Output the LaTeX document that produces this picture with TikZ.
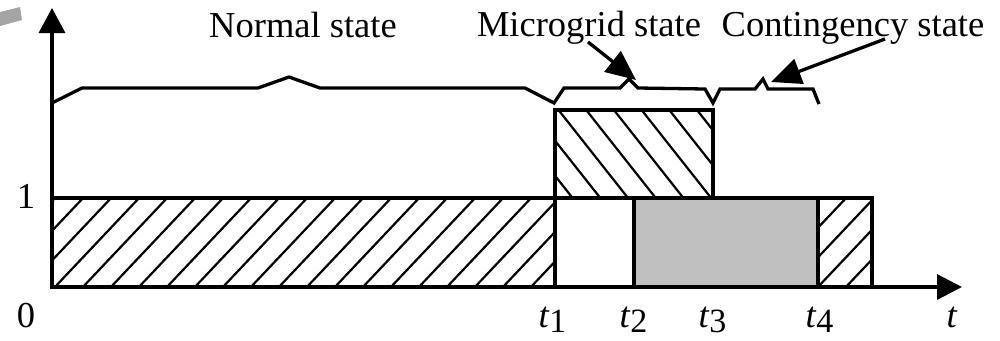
\documentclass[tikz,border=0pt]{standalone}
\usepackage{fontspec}
\setmainfont{Liberation Serif}
\usetikzlibrary{arrows.meta}
\definecolor{markgray}{RGB}{165,165,165}
\definecolor{boxgray}{RGB}{192,192,192}
\newcommand\tlab[1]{\textit{t}\raisebox{-5pt}{\fontsize{34}{34}\selectfont #1}}
\begin{document}
\begin{tikzpicture}[x=1pt,y=-1pt,
  lbl/.style={font=\fontsize{36.5}{40}\selectfont, inner sep=0pt, anchor=base},
  edge/.style={line width=3.3pt},
  hatch/.style={line width=2.2pt},
  bigarrow/.style={line width=3.3pt,-{Triangle[length=30pt,width=26pt]}}]
\useasboundingbox (0,0) rectangle (1000,340);

% gray mark at top-left
\fill[markgray] (0,12) -- (20,7) -- (22,20) -- (0,26) -- cycle;

% coordinates
\coordinate (O) at (52,287);
\coordinate (ytip) at (52,8);
\coordinate (xtip) at (962,287);

% normal-state hatch (NE)
\begin{scope}
  \clip (52,198) rectangle (555,287);
  \foreach \k in {0,...,21} {
    \pgfmathsetmacro{\xt}{55+28*\k}
    \draw[hatch] (\xt+19,178) -- (\xt-103,307);
  }
\end{scope}
% right hatch (NE)
\begin{scope}
  \clip (818,198) rectangle (872,287);
  \foreach \xt in {818,846,874,902,930} {
    \draw[hatch] (\xt+19,178) -- (\xt-103,307);
  }
\end{scope}
% gray box
\fill[boxgray] (634,198) rectangle (818,287);
% microgrid hatch (NW)
\begin{scope}
  \clip (555,110) rectangle (713,198);
  \foreach \k in {-2,...,5} {
    \pgfmathsetmacro{\xt}{558.5+27.7*\k}
    \draw[hatch] (\xt-15.8,90) -- (\xt+85.3,218);
  }
\end{scope}

% box outlines
\draw[edge] (52,198) rectangle (555,287);
\draw[edge] (555,198) rectangle (634,287);
\draw[edge] (634,198) rectangle (818,287);
\draw[edge] (818,198) rectangle (872,287);
\draw[edge] (555,110) rectangle (713,198);

% axes
\draw[edge,-{Triangle[length=25pt,width=26pt]}] (O) -- (ytip);
\draw[edge,-{Triangle[length=25pt,width=25pt]}] (O) -- (xtip);

% state line
\draw[edge] (52,103) -- (82,88) -- (258,88) -- (289,77) -- (320,88) -- (525,88)
  -- (554,103) -- (564,88) -- (620,88) -- (629,79) -- (638,88) -- (705,89)
  -- (713,103) -- (720,89) -- (755,89) -- (763,79) -- (768,89) -- (813,89) -- (819,104);

% labels
\node[lbl] (normal) at (303,37) {Normal state};
\node[lbl] (micro) at (589,36) {Microgrid state};
\node[lbl] (cont) at (853,36) {Contingency state};

\coordinate (ma0) at (588,42);
\coordinate (ma1) at (636,80);
\coordinate (ca0) at (885,39);
\coordinate (ca1) at (771,82);
\draw[bigarrow] (ma0) -- (ma1);
\draw[bigarrow] (ca0) -- (ca1);

\node[lbl] (one) at (26,208) {1};
\node[lbl] (zero) at (26,327) {0};
\node[lbl] (t1) at (552.5,327) {\tlab{1}};
\node[lbl] (t2) at (633.5,327) {\tlab{2}};
\node[lbl] (t3) at (712.5,327) {\tlab{3}};
\node[lbl] (t4) at (819.5,327) {\tlab{4}};
\node[lbl] (tt) at (952,327) {\textit{t}};
\end{tikzpicture}
\end{document}
